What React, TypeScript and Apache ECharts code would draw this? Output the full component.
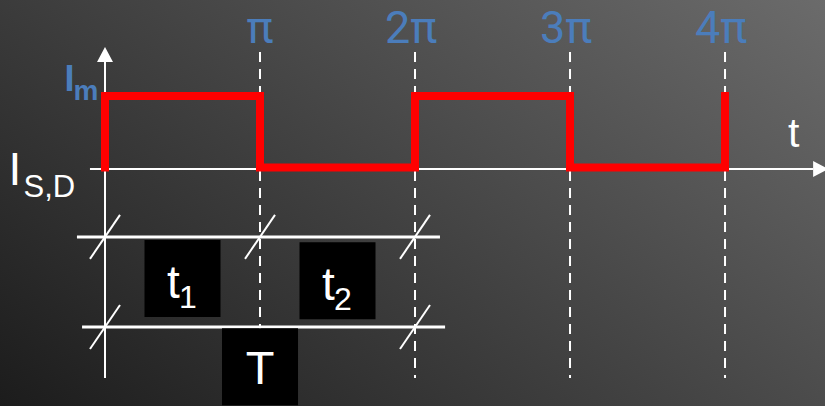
import { useEffect, useRef } from 'react';
import * as echarts from 'echarts';

// Waveform: time in multiples of π, current in units of Im
const stepTime = [0, 0, 1, 1, 2, 2, 3, 3, 4, 4];
const stepCurrent = [0.02, 1, 1, 0.02, 0.02, 1, 1, 0.02, 0.02, 1];

// Phase ticks along the time axis
const phaseTicks = [1, 2, 3, 4];
const phaseLabels = ['π', '2π', '3π', '4π'];

// Level labels on the current axis
const levelValues = [1, 0];
const levelMain = ['I', 'I'];
const levelSub = ['m', 'S,D'];

// Axis extents (data units)
const timeAxisRange = [-0.097, 4.665];
const currentAxisRange = [-2.863, 1.671];
const guideRange = [1.603, -2.863];
const timeAxisName = 't';

// Dimension rows below the chart
const dimRowY = [-0.93, -2.165];
const dimRowFrom = [-0.181, -0.148];
const dimRowTo = [2.161, 2.194];
const dimRowMarks = [[0, 1, 2], [0, 2]];

// Interval annotations
const intervalName = ['t', 't', 'T'];
const intervalSub = ['1', '2', ''];
const intervalStart = [0, 1, 0];
const intervalEnd = [1, 2, 2];
const intervalRow = [-1.5, -1.53, -2.71];

const FONT = '"Liberation Sans", Arial, sans-serif';
const PHASE_FONT = 'Roboto, "Liberation Sans", Arial, sans-serif';
const BLUE = '#4b7dbb';
const WHITE = '#ffffff';

function txt(x: number, y: number, text: string, size: number, fill: string, extra: any = {}) {
  return {
    type: 'text',
    x,
    y,
    style: {
      text,
      fill,
      fontSize: size,
      lineHeight: extra.lineHeight,
      fontFamily: extra.family || FONT,
      fontWeight: extra.weight || 'normal',
      align: extra.align || 'center',
      verticalAlign: 'middle',
    },
  };
}

export default function App() {
  const ref = useRef<HTMLDivElement>(null);

  useEffect(() => {
    if (!ref.current) return;
    const chart = echarts.init(ref.current, null, { renderer: 'svg' });

    const option: any = {
      animation: false,
      backgroundColor: '#333333',
      graphic: [
        {
          type: 'rect',
          z: -10,
          silent: true,
          shape: { x: 0, y: 0, width: 825, height: 406 },
          style: {
            fill: new echarts.graphic.LinearGradient(
              0, 406, 490, -250,
              [
                { offset: 0, color: '#1c1c1c' },
                { offset: 1, color: '#6b6b6b' },
              ],
              true
            ),
          },
        },
      ],
      grid: { left: 105, right: 0, top: 23, bottom: 18 },
      xAxis: { type: 'value', min: 0, max: 4.645, show: false },
      yAxis: { type: 'value', min: -3, max: 2, show: false },
      series: [
        // dashed phase guides
        {
          type: 'custom',
          name: 'guides',
          silent: true,
          z: 2,
          data: phaseTicks.map((t) => [t, guideRange[0], guideRange[1]]),
          renderItem: (params: any, api: any) => {
            const a = api.coord([api.value(0), api.value(1)]);
            const b = api.coord([api.value(0), api.value(2)]);
            return {
              type: 'line',
              shape: { x1: a[0], y1: a[1], x2: b[0], y2: b[1] },
              style: { stroke: WHITE, lineWidth: 2, lineDash: [10, 7] },
            };
          },
        },
        // axes with arrows
        {
          type: 'custom',
          name: 'axes',
          silent: true,
          z: 3,
          data: [
            [timeAxisRange[0], timeAxisRange[1], 0],
            [0, currentAxisRange[0], currentAxisRange[1]],
          ],
          renderItem: (params: any, api: any) => {
            if (params.dataIndex === 0) {
              const a = api.coord([api.value(0), api.value(2)]);
              const b = api.coord([api.value(1), api.value(2)]);
              return {
                type: 'group',
                children: [
                  { type: 'line', shape: { x1: a[0], y1: a[1], x2: b[0] - 15, y2: b[1] }, style: { stroke: WHITE, lineWidth: 2 } },
                  { type: 'polygon', shape: { points: [[b[0], b[1]], [b[0] - 15, b[1] - 8], [b[0] - 15, b[1] + 8]] }, style: { fill: WHITE } },
                  txt(b[0] - 34.5, b[1] - 36, timeAxisName, 41, WHITE),
                ],
              };
            }
            const a = api.coord([api.value(0), api.value(1)]);
            const b = api.coord([api.value(0), api.value(2)]);
            return {
              type: 'group',
              children: [
                { type: 'line', shape: { x1: a[0], y1: a[1], x2: b[0], y2: b[1] + 15 }, style: { stroke: WHITE, lineWidth: 2 } },
                { type: 'polygon', shape: { points: [[b[0], b[1]], [b[0] - 8, b[1] + 15], [b[0] + 8, b[1] + 15]] }, style: { fill: WHITE } },
              ],
            };
          },
        },
        // dimension rows
        {
          type: 'custom',
          name: 'dimensions',
          silent: true,
          z: 3,
          data: dimRowY.map((y, i) => [dimRowFrom[i], dimRowTo[i], y]),
          renderItem: (params: any, api: any) => {
            const y = api.value(2);
            const a = api.coord([api.value(0), y]);
            const b = api.coord([api.value(1), y]);
            const children: any[] = [
              { type: 'line', shape: { x1: a[0], y1: a[1], x2: b[0], y2: b[1] }, style: { stroke: WHITE, lineWidth: 3 } },
            ];
            dimRowMarks[params.dataIndex].forEach((m) => {
              const c = api.coord([m, y]);
              children.push({
                type: 'line',
                shape: { x1: c[0] - 15, y1: c[1] + 22, x2: c[0] + 15, y2: c[1] - 22 },
                style: { stroke: WHITE, lineWidth: 2 },
              });
            });
            return { type: 'group', children };
          },
        },
        // current waveform
        {
          type: 'line',
          name: 'current',
          silent: true,
          z: 5,
          symbol: 'none',
          data: stepTime.map((t, i) => [t, stepCurrent[i]]),
          lineStyle: { color: '#ff0000', width: 8, cap: 'square', join: 'miter' },
        },
        // interval boxes
        {
          type: 'custom',
          name: 'intervals',
          silent: true,
          z: 6,
          data: intervalStart.map((s, i) => [s, intervalEnd[i], intervalRow[i]]),
          renderItem: (params: any, api: any) => {
            const i = params.dataIndex;
            const c = api.coord([(api.value(0) + api.value(1)) / 2, api.value(2)]);
            const w = 76;
            const h = 77;
            const children: any[] = [
              { type: 'rect', shape: { x: c[0] - w / 2, y: c[1] - h / 2, width: w, height: h }, style: { fill: '#000000' } },
            ];
            if (intervalSub[i]) {
              children.push(txt(c[0] - 9, c[1] + 3.3, intervalName[i], 46, WHITE));
              children.push(txt(c[0] + 5.5, c[1] + 18, intervalSub[i], 32, WHITE));
            } else {
              children.push(txt(c[0], c[1] + 0.5, intervalName[i], 47, WHITE));
            }
            return { type: 'group', children };
          },
        },
        // level labels
        {
          type: 'custom',
          name: 'levels',
          silent: true,
          z: 6,
          data: levelValues.map((v) => [0, v]),
          renderItem: (params: any, api: any) => {
            const i = params.dataIndex;
            const c = api.coord([api.value(0), api.value(1)]);
            if (i === 0) {
              return {
                type: 'group',
                children: [
                  txt(c[0] - 35.5, c[1] - 18, levelMain[i], 36, BLUE, { weight: 'bold' }),
                  txt(c[0] - 19, c[1] - 6, levelSub[i], 28, BLUE, { weight: 'bold' }),
                ],
              };
            }
            return {
              type: 'group',
              children: [
                txt(c[0] - 90, c[1], levelMain[i], 46, WHITE),
                txt(c[0] - 81.5, c[1] + 17, levelSub[i], 31, WHITE, { align: 'left' }),
              ],
            };
          },
        },
        // phase labels
        {
          type: 'custom',
          name: 'phases',
          silent: true,
          z: 6,
          data: phaseTicks.map((t) => [t, 1.945]),
          renderItem: (params: any, api: any) => {
            const i = params.dataIndex;
            const c = api.coord([api.value(0), api.value(1)]);
            const label = phaseLabels[i];
            return txt(c[0] - (label.length - 1) * 4, c[1], label, 45, BLUE, { family: PHASE_FONT, lineHeight: 45 });
          },
        },
      ],
    };

    chart.setOption(option);
    return () => chart.dispose();
  }, []);

  return (
    <div
      ref={ref}
      style={{ position: 'absolute', left: 0, top: 0, width: 825, height: 406 }}
    />
  );
}
